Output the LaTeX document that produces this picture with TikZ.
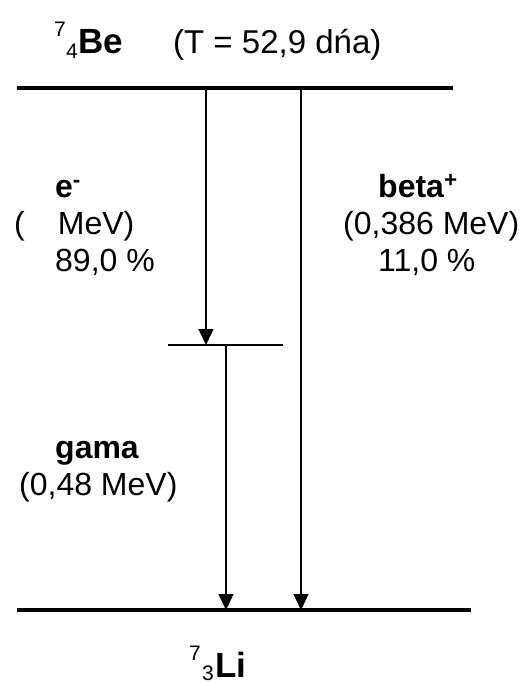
\documentclass[tikz,border=0pt]{standalone}
\usepackage{fontspec}
\setmainfont{Liberation Sans}
\usetikzlibrary{arrows.meta}
\begin{document}
\begin{tikzpicture}[x=1pt,y=-1pt,
 txt/.style={inner sep=0pt, anchor=base west, font=\fontsize{32}{37}\selectfont},
 btxt/.style={inner sep=0pt, anchor=base west, font=\fontsize{32}{37}\selectfont\bfseries},
 nuc/.style={inner sep=0pt, anchor=base west, font=\fontsize{35}{40}\selectfont\bfseries},
 small/.style={inner sep=0pt, anchor=base west, font=\fontsize{21}{21}\selectfont},
 level/.style={line width=4pt},
 sublevel/.style={line width=1.5pt},
 trans/.style={line width=1.5pt, -{Triangle[width=15pt,length=16pt]}}]
\useasboundingbox (0,0) rectangle (521,683);
% levels
\coordinate (t1) at (17,88); \coordinate (t2) at (453,88);
\coordinate (m1) at (168,345); \coordinate (m2) at (283,345);
\coordinate (b1) at (17,610); \coordinate (b2) at (471,610);
\draw[level] (t1) -- (t2);
\draw[sublevel] (m1) -- (m2);
\draw[level] (b1) -- (b2);
% transitions
\coordinate (ecS) at (206,88); \coordinate (ecE) at (206,345);
\coordinate (gS) at (226,345); \coordinate (gE) at (226,610);
\coordinate (bS) at (301,88); \coordinate (bE) at (301,610);
\draw[trans] (ecS) -- (ecE);
\draw[trans] (gS) -- (gE);
\draw[trans] (bS) -- (bE);
% labels
\node[small] (be7) at (54,36) {7};
\node[small] (be4) at (66,58) {4};
\node[nuc] (be) at (78,53) {Be};
\node[txt,font=\fontsize{33}{38}\selectfont] (T) at (173,53) {(T = 52,9 dńa)};
\node[btxt] (e) at (55,197) {e\textsuperscript{-}};
\node[txt] (emev) at (14,234) {(\hspace{33pt}MeV)};
\node[txt] (ep) at (55,271) {89,0 \%};
\node[btxt] (beta) at (378,197) {beta\textsuperscript{+}};
\node[txt] (bmev) at (343,234) {(0,386 MeV)};
\node[txt] (bp) at (378,271) {11,0 \%};
\node[btxt] (gama) at (55,458) {gama};
\node[txt] (gmev) at (19,495) {(0,48 MeV)};
\node[small] (li7) at (189,660) {7};
\node[small] (li3) at (202,680) {3};
\node[nuc] (li) at (215,677) {Li};
\end{tikzpicture}
\end{document}
